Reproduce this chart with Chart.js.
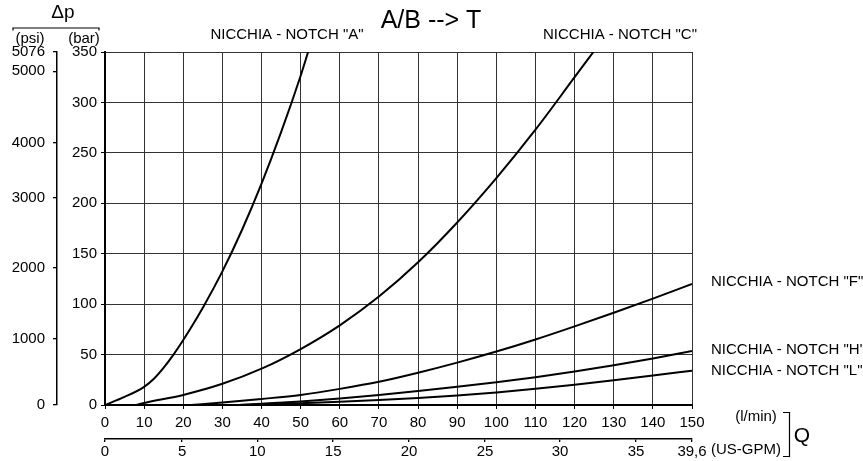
<!DOCTYPE html>
<html>
<head>
<meta charset="utf-8">
<script src="https://cdn.jsdelivr.net/npm/chart.js@4/dist/chart.umd.min.js"></script>
<style>
  body { margin: 0; background: #fff; }
  canvas { display: block; }
</style>
</head>
<body>
<canvas id="chart" width="863" height="461"></canvas>
<script>
// flow Q (l/min) and pressure drop (bar)
const flowA = [0, 5, 10, 12.5, 15, 17.5, 20, 25, 30, 35, 40, 45, 50, 51.9];
const dpA   = [0, 8, 18, 26, 37, 50, 64.5, 96.5, 132.5, 173.5, 219.5, 270.5, 326.5, 350];

const flowC = [8, 10, 20, 30, 40, 50, 60, 70, 80, 90, 100, 110, 120, 124.8];
const dpC   = [0, 2, 10, 21, 36, 55.5, 79, 107.5, 141.5, 181, 225, 273, 325, 350];

const flowF = [22, 30, 40, 50, 60, 70, 80, 90, 100, 110, 120, 130, 140, 150];
const dpF   = [0, 2.5, 6, 10, 16, 23, 32, 42, 53, 65, 78, 91.5, 105.5, 120];

const flowH = [34, 40, 50, 60, 70, 80, 90, 100, 110, 120, 130, 140, 150];
const dpH   = [0, 1.2, 3.5, 6.5, 10, 13.8, 18, 22.6, 27.6, 33.2, 39.4, 46.2, 53.6];

const flowL = [37, 40, 50, 60, 70, 80, 90, 100, 110, 120, 130, 140, 150];
const dpL   = [0, 0.5, 1.8, 3.3, 5, 7, 9.5, 12.5, 16, 20, 24.5, 29.2, 34];

// secondary scales as printed: psi marks (at bar value) and US-GPM marks (at l/min value)
const psiLabels = ['0', '1000', '2000', '3000', '4000', '5000', '5076'];
const psiAtBar  = [0, 66, 136, 205.5, 260, 331, 350];
const gpmLabels = ['0', '5', '10', '15', '20', '25', '30', '35', '39,6'];
const gpmAtLmin = [0, 19.7, 38.9, 58.3, 77.7, 97.1, 116.3, 135.7, 150];

const FONT = 'Liberation Sans, Arial, Helvetica, sans-serif';

const pts = (xs, ys) => xs.map((x, i) => ({ x, y: ys[i] }));
const curve = (label, xs, ys) => ({
  label,
  data: pts(xs, ys),
  borderColor: '#000',
  borderWidth: 2,
  pointRadius: 0,
  fill: false,
  cubicInterpolationMode: 'monotone'
});

const textPlugin = {
  id: 'texts',
  afterDraw(chart) {
    const ctx = chart.ctx;
    const put = (txt, x, y, size, align) => {
      ctx.save();
      ctx.font = size + 'px ' + FONT;
      ctx.fillStyle = '#000';
      ctx.textAlign = align || 'center';
      ctx.textBaseline = 'middle';
      ctx.fillText(txt, x, y);
      ctx.restore();
    };
    put('A/B --> T', 431, 21, 25, 'center');
    put('NICCHIA - NOTCH "A"', 287, 35, 15, 'center');
    put('NICCHIA - NOTCH "C"', 620, 35, 15, 'center');
    put('NICCHIA - NOTCH "F"', 711, 282, 15, 'left');
    put('NICCHIA - NOTCH "H"', 711, 350, 15, 'left');
    put('NICCHIA - NOTCH "L"', 711, 371, 15, 'left');

    put('\u0394p', 63, 13, 19, 'center');
    put('(psi)', 30, 38.5, 15, 'center');
    put('(bar)', 84, 38.5, 15, 'center');

    put('(l/min)', 756, 417, 15, 'center');
    put('(US-GPM)', 746, 450, 15, 'center');
    put('Q', 802, 436, 21, 'center');

    ctx.save();
    ctx.strokeStyle = '#000';
    ctx.lineWidth = 1.2;
    ctx.beginPath();
    ctx.moveTo(13, 30.5); ctx.lineTo(13, 28); ctx.lineTo(99, 28); ctx.lineTo(99, 30.5);
    ctx.moveTo(783, 412.5); ctx.lineTo(789.5, 412.5); ctx.lineTo(789.5, 456.5); ctx.lineTo(783, 456.5);
    ctx.stroke();
    ctx.restore();
  }
};

const tickFont = { family: FONT, size: 15 };

new Chart(document.getElementById('chart'), {
  type: 'line',
  data: {
    datasets: [
      curve('NOTCH "A"', flowA, dpA),
      curve('NOTCH "C"', flowC, dpC),
      curve('NOTCH "F"', flowF, dpF),
      curve('NOTCH "H"', flowH, dpH),
      curve('NOTCH "L"', flowL, dpL)
    ]
  },
  options: {
    responsive: false,
    animation: false,
    layout: { padding: { top: 52, right: 171, bottom: 0, left: 0 } },
    plugins: { legend: { display: false }, tooltip: { enabled: false }, title: { display: false } },
    scales: {
      x: {
        type: 'linear', position: 'bottom', weight: 0,
        min: 0, max: 150,
        afterFit: s => { s.height = 34; },
        grid: { color: '#333', lineWidth: 1, tickLength: 4, tickColor: '#000' },
        border: { color: '#000', width: 2 },
        ticks: { stepSize: 10, autoSkip: false, maxRotation: 0, padding: 5, color: '#000', font: tickFont }
      },
      x2: {
        type: 'linear', position: 'bottom', weight: 1,
        min: 0, max: 150,
        afterFit: s => { s.height = 22; },
        afterBuildTicks: s => { s.ticks = gpmAtLmin.map(v => ({ value: v })); },
        grid: { drawOnChartArea: false, tickLength: 3, tickColor: '#000', lineWidth: 1.3 },
        border: { color: '#000', width: 1.5 },
        ticks: {
          autoSkip: false, maxRotation: 0, padding: 1, color: '#000', font: tickFont,
          callback: (v, i) => gpmLabels[i]
        }
      },
      y: {
        type: 'linear', position: 'left', weight: 0,
        min: 0, max: 350,
        afterFit: s => { s.width = 48; },
        grid: { color: '#333', lineWidth: 1, tickLength: 4, tickColor: '#000' },
        border: { color: '#000', width: 2 },
        ticks: { stepSize: 50, autoSkip: false, padding: 4, color: '#000', font: tickFont }
      },
      y2: {
        type: 'linear', position: 'left', weight: 1,
        min: 0, max: 350,
        afterFit: s => { s.width = 57; },
        afterBuildTicks: s => { s.ticks = psiAtBar.map(v => ({ value: v })); },
        grid: { drawOnChartArea: false, tickLength: 4, tickColor: '#000', lineWidth: 1.3 },
        border: { color: '#000', width: 1.5 },
        ticks: {
          autoSkip: false, padding: 8, color: '#000', font: tickFont,
          callback: (v, i) => psiLabels[i]
        }
      }
    }
  },
  plugins: [textPlugin]
});
</script>
</body>
</html>
